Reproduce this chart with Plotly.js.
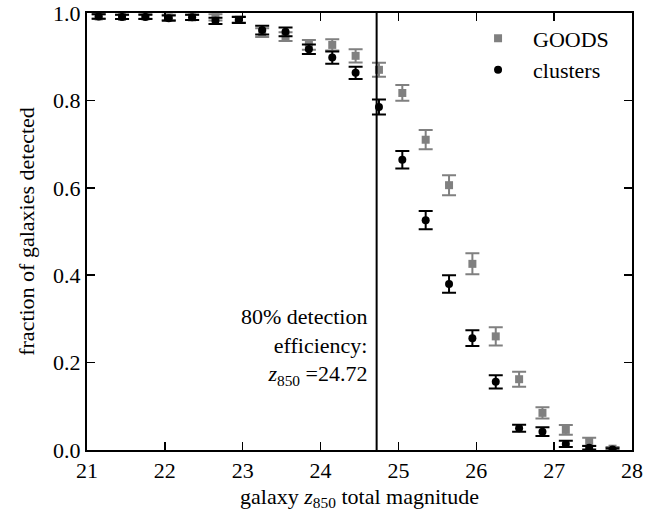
<!DOCTYPE html>
<html>
<head>
<meta charset="utf-8">
<script src="https://cdn.plot.ly/plotly-3.0.1.min.js"></script>
</head>
<body style="margin:0;background:#fff">
<div id="chart" style="width:646px;height:515px"></div>
<script>
const magnitudes = [21.15, 21.45, 21.75, 22.05, 22.35, 22.65, 22.95, 23.25, 23.55, 23.85, 24.15, 24.45, 24.75, 25.05, 25.35, 25.65, 25.95, 26.25, 26.55, 26.85, 27.15, 27.45, 27.75];
const goodsFraction = [0.992, 0.991, 0.992, 0.990, 0.990, 0.990, 0.985, 0.955, 0.946, 0.927, 0.927, 0.902, 0.870, 0.817, 0.710, 0.606, 0.426, 0.260, 0.162, 0.085, 0.046, 0.019, 0.003];
const goodsError = [0.005, 0.005, 0.005, 0.006, 0.006, 0.007, 0.007, 0.010, 0.010, 0.011, 0.013, 0.015, 0.016, 0.018, 0.022, 0.023, 0.024, 0.021, 0.017, 0.013, 0.011, 0.009, 0.004];
const clusterFraction = [0.992, 0.991, 0.991, 0.988, 0.990, 0.982, 0.984, 0.961, 0.957, 0.917, 0.898, 0.863, 0.785, 0.664, 0.526, 0.380, 0.256, 0.156, 0.050, 0.042, 0.014, 0.005, 0.001];
const clusterError = [0.005, 0.005, 0.005, 0.006, 0.006, 0.007, 0.007, 0.010, 0.010, 0.011, 0.014, 0.014, 0.017, 0.020, 0.021, 0.020, 0.018, 0.015, 0.008, 0.010, 0.007, 0.004, 0.003];
const detectionMag = 24.72;
const xTicks = [21, 22, 23, 24, 25, 26, 27, 28];
const yTicks = [0, 0.2, 0.4, 0.6, 0.8, 1.0];
const yTickLabels = ['0.0', '0.2', '0.4', '0.6', '0.8', '1.0'];

const FONT = '"Liberation Serif", serif';
const FS = 22;
const grey = '#808080';

const traces = [
  {
    x: magnitudes, y: goodsFraction, name: 'GOODS', type: 'scatter', mode: 'markers',
    marker: {symbol: 'square', size: 8, color: grey},
    error_y: {type: 'data', array: goodsError, visible: true, color: grey, thickness: 2, width: 7}
  },
  {
    x: magnitudes, y: clusterFraction, name: 'clusters', type: 'scatter', mode: 'markers',
    marker: {symbol: 'circle', size: 8, color: '#000'},
    error_y: {type: 'data', array: clusterError, visible: true, color: '#000', thickness: 2, width: 7}
  }
];

function axisBase() {
  return {
    showgrid: false, zeroline: false, showline: true, linecolor: '#000', linewidth: 2,
    mirror: 'ticks', ticks: 'inside', ticklen: 8, tickwidth: 1.5, tickcolor: '#000',
    tickfont: {family: FONT, size: FS, color: '#000'}
  };
}

const layout = {
  width: 646, height: 515,
  margin: {l: 87, r: 14, t: 13, b: 65},
  paper_bgcolor: '#fff', plot_bgcolor: '#fff',
  showlegend: true,
  legend: {x: 0.69, y: 0.99, xanchor: 'left', yanchor: 'top', bgcolor: 'rgba(0,0,0,0)',
           font: {family: FONT, size: FS, color: '#000'}, itemwidth: 60, tracegroupgap: 0},
  xaxis: Object.assign(axisBase(), {
    range: [21, 28], tickvals: xTicks, ticktext: xTicks.map(String),
    title: {text: 'galaxy <i>z</i><sub>850</sub> total magnitude', font: {family: FONT, size: FS, color: '#000'}, standoff: 6}
  }),
  yaxis: Object.assign(axisBase(), {
    range: [0, 1], tickvals: yTicks, ticktext: yTickLabels,
    title: {text: 'fraction of galaxies detected', font: {family: FONT, size: FS, color: '#000'}, standoff: 12}
  }),
  shapes: [{type: 'line', xref: 'x', yref: 'y', x0: detectionMag, x1: detectionMag, y0: 0, y1: 1,
            line: {color: '#000', width: 2}}],
  annotations: [{
    xref: 'x', yref: 'y', x: detectionMag, y: 0.135, xanchor: 'right', yanchor: 'bottom', xshift: -8,
    align: 'right', showarrow: false,
    text: '80% detection<br>efficiency:<br><i>z</i><sub>850</sub> =24.72',
    font: {family: FONT, size: FS, color: '#000'}
  }]
};

Plotly.newPlot('chart', traces, layout, {displayModeBar: false, staticPlot: true});
</script>
</body>
</html>
